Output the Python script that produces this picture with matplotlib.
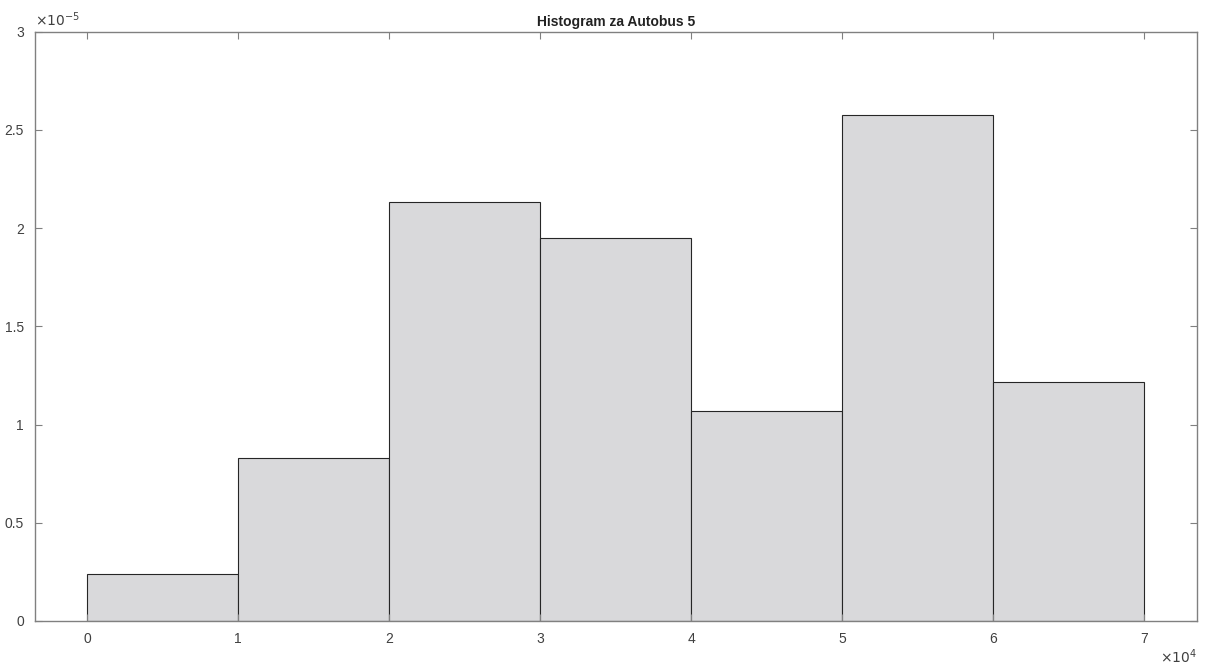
import matplotlib.pyplot as plt
import numpy as np

plt.rcParams['font.family'] = ['Liberation Sans', 'DejaVu Sans']

# bin edges and normalized histogram heights (pdf)
bin_edges = [0, 10000, 20000, 30000, 40000, 50000, 60000, 70000]
density = [0.24e-5, 0.83e-5, 2.13e-5, 1.95e-5, 1.07e-5, 2.575e-5, 1.215e-5]
xticks = [0, 1, 2, 3, 4, 5, 6, 7]
yticks = [0, 0.5, 1, 1.5, 2, 2.5, 3]

fig = plt.figure(figsize=(12.11, 6.66), dpi=100)
ax = fig.add_axes([35 / 1211, 1 - 621 / 666, (1197 - 35) / 1211, (621 - 31.5) / 666])

edges = np.array(bin_edges)
ax.bar(edges[:-1], density, width=np.diff(edges), align='edge',
       color='#d9d9db', edgecolor='#262626', linewidth=0.8)

ax.set_xlim(-3440, 73500)
ax.set_ylim(0, 3e-5)
ax.set_xticks([t * 1e4 for t in xticks])
ax.set_xticklabels([str(t) for t in xticks])
ax.set_yticks([t * 1e-5 for t in yticks])
ax.set_yticklabels(['%g' % t for t in yticks])

gray = '#808080'
for s in ax.spines.values():
    s.set_color(gray)
    s.set_linewidth(1.0)
ax.tick_params(direction='in', top=True, right=True, length=5, width=0.8,
               color=gray, labelcolor='#404040', labelsize=10, pad=8)

ax.set_title('Histogram za Autobus 5', fontsize=10, fontweight='bold',
             color='#222222', pad=4)
ax.text(0.0, 1.005, r'$\times10^{-5}$', transform=ax.transAxes, fontsize=10,
        color='#404040', ha='left', va='bottom')
ax.text(1.0, -0.045, r'$\times10^{4}$', transform=ax.transAxes, fontsize=10,
        color='#404040', ha='right', va='top')

fig.savefig('out.png', dpi=100)
